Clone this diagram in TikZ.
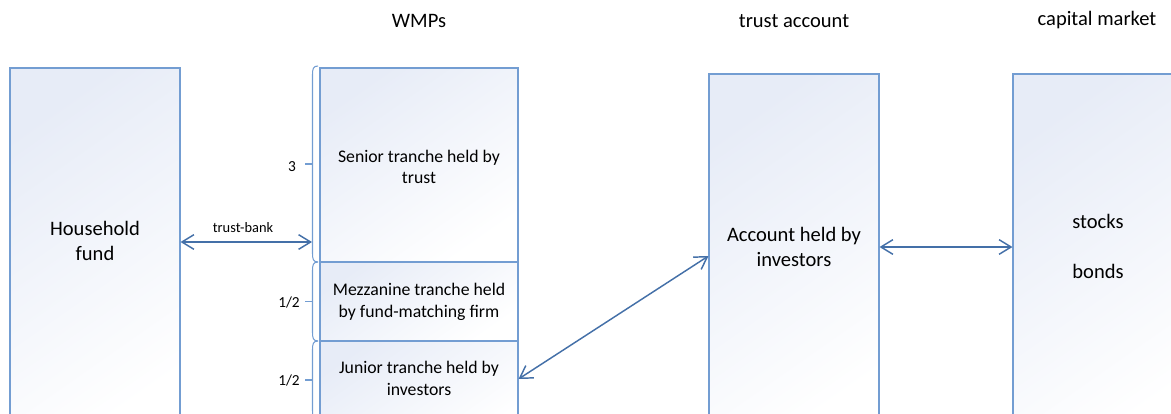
\documentclass[tikz,border=0pt]{standalone}
\usepackage{fontspec}
\setmainfont{Carlito}
\usetikzlibrary{arrows.meta,fit}
\definecolor{boxline}{RGB}{115,157,210}
\definecolor{arrline}{RGB}{68,112,168}
\definecolor{boxfill}{RGB}{231,236,247}
\begin{document}
\begin{tikzpicture}[x=0.75pt,y=-0.75pt,
  box/.style={draw=boxline, line width=0.8pt, inner sep=0pt, top color=boxfill, bottom color=white, shading angle=35},
  big/.style={font=\fontsize{15.4}{18.75}\selectfont, align=center, anchor=base, inner sep=0pt},
  mid/.style={font=\fontsize{13.3}{16.1}\selectfont, align=center, anchor=base, inner sep=0pt},
  small/.style={font=\fontsize{10.8}{13}\selectfont, anchor=base, inner sep=0pt},
  lab/.style={font=\fontsize{11.5}{13}\selectfont, anchor=base, inner sep=0pt},
  arr/.style={draw=arrline, line width=1.1pt, {Straight Barb[length=9pt,width=11pt]}-{Straight Barb[length=9pt,width=11pt]}},
  brc/.style={draw=boxline, line width=0.8pt}]
\useasboundingbox (0,0) rectangle (1171,414);
\clip (0,0) rectangle (1171,414);
% boxes
\node[box, fit={(10,68) (180,440)}] (hh) {};
\node[box, fit={(320,68) (518,262)}] (sen) {};
\node[box, fit={(320,262) (518,341)}] (mez) {};
\node[box, fit={(320,341) (518,440)}] (jun) {};
\node[box, fit={(709,74) (879,440)}] (acc) {};
\node[box, fit={(1013,74) (1200,440)}] (cap) {};
% headers
\node[big] (h1) at (419,27) {WMPs};
\node[big] (h2) at (794,27) {trust account};
\node[big] (h3) at (1097,26) {capital market};
% box texts (anchor base = last line)
\node[big] (hht) at (95,260) {Household\\fund};
\node[mid] (sent) at (419,183.5) {Senior tranche held by\\trust};
\node[mid] (mezt) at (419,317) {Mezzanine tranche held\\by fund-matching firm};
\node[mid] (junt) at (419,395) {Junior tranche held by\\investors};
\node[big] (acct) at (794,266) {Account held by\\investors};
\node[big] (stk) at (1098,228) {stocks};
\node[big] (bnd) at (1098,278) {bonds};
% braces
\foreach \ya/\yb in {66/262, 262/341, 341/419}{
  \pgfmathsetmacro{\ym}{(\ya+\yb)/2}
  \draw[brc] (318,\ya) .. controls (313,{\ya}) and (312.5,{\ya+3}) .. (312.5,{\ya+9}) -- (312.5,{\yb-9}) .. controls (312.5,{\yb-3}) and (313,{\yb}) .. (318,\yb);
  \draw[brc] (305,\ym) -- (312.5,\ym);
}
\node[lab] (l1) at (292,171) {3};
\node[lab] (l2) at (289,307) {1/2};
\node[lab] (l3) at (289,385) {1/2};
% connectors
\coordinate (tbR) at (312,242);
\draw[arr] (hh.east |- 0,242) -- (tbR);
\node[small] (tb) at (243,232) {trust-bank};
\draw[arr] (jun.east |- 0,379) -- (acc.west |- 0,256);
\draw[arr] (acc.east |- 0,247) -- (cap.west |- 0,247);
\end{tikzpicture}
\end{document}
